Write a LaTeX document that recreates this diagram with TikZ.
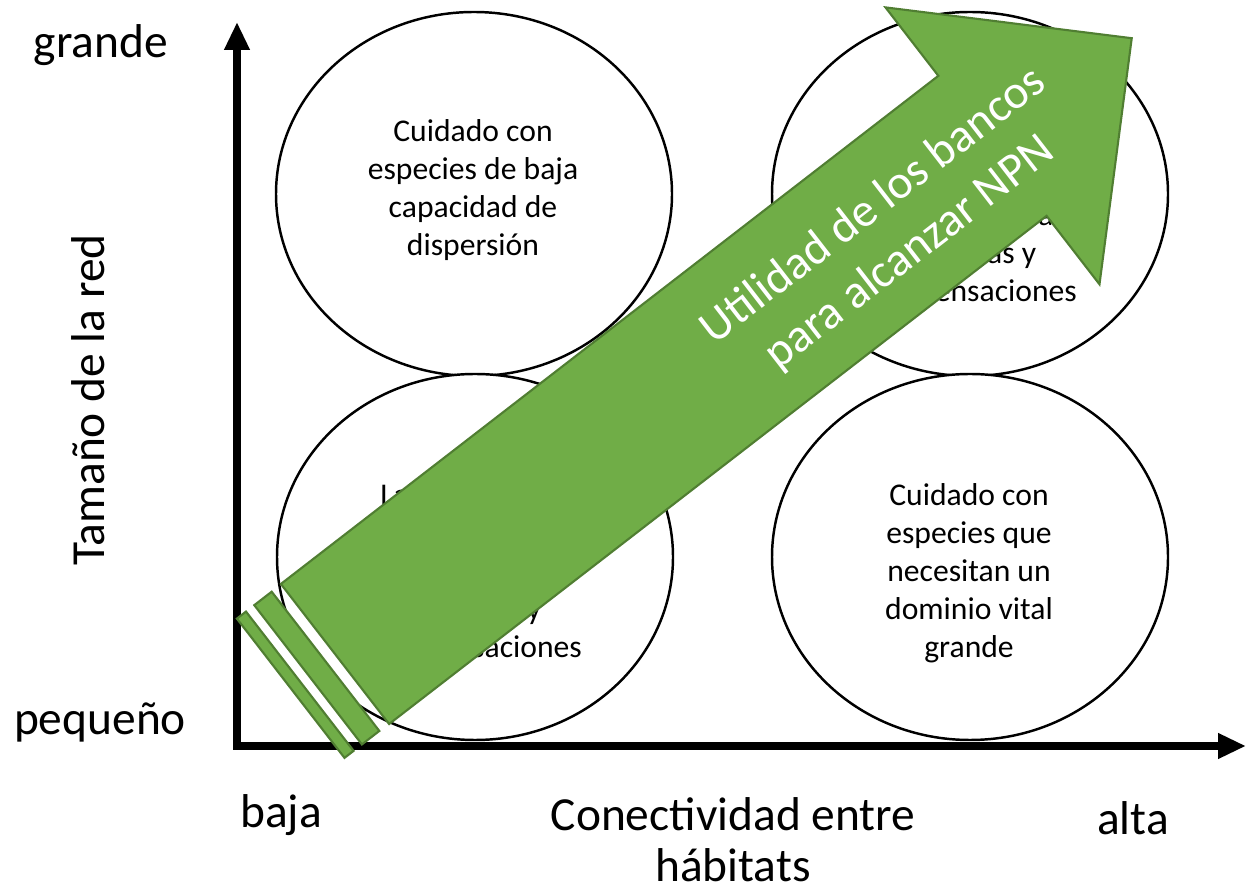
\documentclass[tikz,border=0pt]{standalone}
\usepackage{fontspec}
\setmainfont{Carlito}
\usetikzlibrary{arrows.meta}
\definecolor{bandverde}{HTML}{70AD47}
\definecolor{bordeverde}{HTML}{507E32}
\tikzset{
	cuadrante/.style={draw=black, line width=0.7pt, fill=white},
	textocuadrante/.style={align=center, font=\fontsize{9}{10.8}\selectfont},
	etiqueta/.style={align=center, font=\fontsize{13.5}{14.5}\selectfont},
	banda/.style={fill=bandverde, draw=bordeverde, line width=0.6pt},
	eje/.style={line width=2pt, -{Triangle[length=0.28cm, width=0.24cm]}}
}
\begin{document}
\begin{tikzpicture}
		\useasboundingbox (0,0) rectangle (12.47,8.89);
		
		% ----- Cuadrantes -----
		\draw[cuadrante] (4.74,6.95) ellipse [x radius=1.98, y radius=1.82];
		\draw[cuadrante] (4.75,3.32) ellipse [x radius=1.98, y radius=1.83];
		\draw[cuadrante] (9.70,6.95) ellipse [x radius=1.98, y radius=1.82];
		\draw[cuadrante] (9.70,3.32) ellipse [x radius=1.98, y radius=1.83];
		
		% Texte in den Kreisen
		\node[textocuadrante] (arribaizq) at (4.73,6.99) {Cuidado con\\especies de baja\\capacidad de\\dispersión};
		\node[textocuadrante] (arribader) at (9.70,6.72) {Corta distancia\\geográfica entre\\los sitios de las\\pérdidas y\\compensaciones};
		\node[textocuadrante] (abajoizq) at (4.75,3.16) {Larga distancia\\geográfica entre\\los sitios de las\\pérdidas y\\compensaciones};
		\node[textocuadrante] (abajoder) at (9.69,3.16) {Cuidado con\\especies que\\necesitan un\\dominio vital\\grande};
		
		% ----- Ejes -----
		\draw[eje] (2.37,1.43) -- (2.37,8.67);
		\draw[eje] (2.33,1.43) -- (12.46,1.43);
		
		% Beschriftung der Achsen
		\node[etiqueta] (grande) at (1.01,8.44) {grande};
		\node[etiqueta] (pequeno) at (1.00,1.67) {pequeño};
		\node[etiqueta, rotate=90] (tamano) at (0.88,4.89) {Tamaño de la red};
		\node[etiqueta] (baja) at (2.81,0.74) {baja};
		\node[etiqueta] (alta) at (11.33,0.71) {alta};
		\node[etiqueta] (conectividad) at (7.33,0.49) {Conectividad entre\\hábitats};
		
		% ----- Flecha verde -----
		\begin{scope}[shift={(3.35,2.35)}, rotate=37.7]
			\draw[banda] (-0.56,-0.88) rectangle (-0.445,0.88);
			\draw[banda] (-0.34,-0.88) rectangle (-0.12,0.88);
			\draw[banda] (0,-0.885) -- (8.31,-0.885) -- (8.31,-1.75) -- (10.07,0)
				-- (8.31,1.75) -- (8.31,0.885) -- (0,0.885) -- cycle;
			\node[align=center, text=white, rotate=37.7, font=\fontsize{13.5}{17}\selectfont] (utilidad) at (7.0,-0.05) {Utilidad de los bancos\\para alcanzar NPN};
		\end{scope}
		
	\end{tikzpicture}
\end{document}
